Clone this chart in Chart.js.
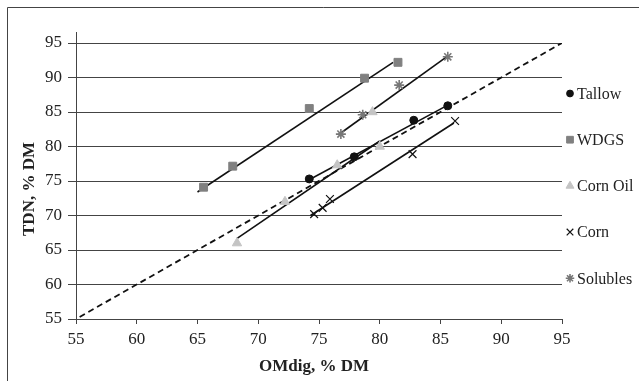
<!DOCTYPE html>
<html>
<head>
<meta charset="utf-8">
<script src="https://cdn.jsdelivr.net/npm/chart.js@4.4.1/dist/chart.umd.min.js"></script>
<style>
  html, body { margin: 0; padding: 0; background: #fff; overflow: hidden; }
  #wrap { width: 639px; height: 381px; position: relative; }
</style>
</head>
<body>
<div id="wrap"><canvas id="chart" width="639" height="381"></canvas></div>
<script>
// values (OMdig on x, TDN on y, both % DM)
const tallowX = [74.2, 77.9, 82.8, 85.6];
const tallowY = [75.3, 78.5, 83.8, 85.9];
const wdgsX = [65.5, 67.9, 74.2, 78.75, 81.5];
const wdgsY = [74.1, 77.15, 85.5, 89.9, 92.2];
const cornOilX = [68.25, 72.2, 76.5, 80.0, 79.4];
const cornOilY = [66.0, 72.0, 77.3, 80.0, 85.0];
const cornX = [74.6, 75.3, 75.9, 82.7, 86.2];
const cornY = [70.2, 71.1, 72.4, 78.9, 83.7];
const solublesX = [76.8, 78.6, 81.6, 85.6];
const solublesY = [81.8, 84.6, 88.9, 93.0];

// fitted lines, start and end points
const tallowFitX = [74.0, 85.6];
const tallowFitY = [75.0, 86.0];
const wdgsFitX = [65.0, 81.1];
const wdgsFitY = [73.4, 92.2];
const cornOilFitX = [68.2, 80.0];
const cornOilFitY = [66.6, 80.8];
const cornFitX = [74.3, 86.1];
const cornFitY = [70.0, 83.4];
const solublesFitX = [76.6, 85.5];
const solublesFitY = [81.7, 93.0];
const unityX = [55.3, 95];
const unityY = [55.3, 95];

const axisTicks = [55, 60, 65, 70, 75, 80, 85, 90, 95];

const FONT = "'Liberation Serif', 'DejaVu Serif', serif";

const pts = (xs, ys) => xs.map((x, i) => ({ x: x, y: ys[i] }));

const series = [
    { label: 'Tallow', x: tallowX, y: tallowY, style: 'circle', r: 4, fill: '#111', stroke: '#111', bw: 1 },
    { label: 'WDGS', x: wdgsX, y: wdgsY, style: 'rect', r: 5.6, fill: '#808080', stroke: '#808080', bw: 1 },
    { label: 'Corn Oil', x: cornOilX, y: cornOilY, style: 'triangle', r: 5.4, fill: '#c4c4c4', stroke: '#c4c4c4', bw: 1 },
    { label: 'Corn', x: cornX, y: cornY, style: 'crossRot', r: 5.5, fill: '#111', stroke: '#111', bw: 1.2 },
    { label: 'Solubles', x: solublesX, y: solublesY, style: 'star', r: 5, fill: '#777', stroke: '#777', bw: 1.6 }
];

const fits = [
    [tallowFitX, tallowFitY],
    [wdgsFitX, wdgsFitY],
    [cornOilFitX, cornOilFitY],
    [cornFitX, cornFitY],
    [solublesFitX, solublesFitY]
];

const datasets = [];
series.forEach(s => {
    datasets.push({
        label: s.label,
        data: pts(s.x, s.y),
        showLine: false,
        pointStyle: s.style,
        pointRadius: s.r,
        pointBackgroundColor: s.fill,
        pointBorderColor: s.stroke,
        pointBorderWidth: s.bw,
        order: 0
    });
});
fits.forEach(f => {
    datasets.push({
        data: pts(f[0], f[1]),
        showLine: true,
        borderColor: '#111',
        borderWidth: 1.6,
        pointRadius: 0,
        order: 1
    });
});
datasets.push({
    data: pts(unityX, unityY),
    showLine: true,
    borderColor: '#111',
    borderWidth: 1.8,
    borderDash: [6, 4],
    pointRadius: 0,
    order: 2
});

function drawMarker(ctx, s, x, y) {
    const opts = {
        pointStyle: s.style, radius: s.r * 0.85, rotation: 0,
        borderWidth: s.bw, backgroundColor: s.fill, borderColor: s.stroke
    };
    ctx.save();
    ctx.fillStyle = s.fill;
    ctx.strokeStyle = s.stroke;
    ctx.lineWidth = s.bw;
    Chart.helpers.drawPoint(ctx, opts, x, y);
    ctx.restore();
}

const decor = {
    id: 'decor',
    afterDraw(chart) {
        const ctx = chart.ctx;
        const a = chart.chartArea;
        ctx.save();
        // outer frame (runs off the right and bottom edges)
        ctx.strokeStyle = '#444';
        ctx.lineWidth = 1;
        ctx.beginPath();
        ctx.moveTo(7.5, 381);
        ctx.lineTo(7.5, 7.5);
        ctx.lineTo(639, 7.5);
        ctx.stroke();
        // y axis runs a bit above the top gridline
        ctx.beginPath();
        ctx.moveTo(a.left + 0.5, a.top - 11);
        ctx.lineTo(a.left + 0.5, a.top);
        ctx.stroke();

        // axis titles
        ctx.fillStyle = '#222';
        ctx.font = "bold 17px " + FONT;
        ctx.textAlign = 'center';
        ctx.textBaseline = 'middle';
        ctx.fillText('OMdig, % DM', 314, 367);
        ctx.save();
        ctx.translate(30, 189);
        ctx.rotate(-Math.PI / 2);
        ctx.fillText('TDN, % DM', 0, 0);
        ctx.restore();

        // legend
        ctx.font = "16px " + FONT;
        ctx.textAlign = 'left';
        series.forEach((s, i) => {
            const y = 93.5 + i * 46.2;
            drawMarker(ctx, s, a.right + 8, y);
            ctx.fillStyle = '#222';
            ctx.fillText(s.label, a.right + 15, y + 1);
        });
        ctx.restore();
    }
};

new Chart(document.getElementById('chart'), {
    type: 'scatter',
    data: { datasets: datasets },
    options: {
        responsive: false,
        animation: false,
        devicePixelRatio: 1,
        layout: { padding: { top: 43, right: 77, left: 0, bottom: 0 } },
        plugins: { legend: { display: false }, tooltip: { enabled: false } },
        scales: {
            x: {
                type: 'linear',
                min: 55, max: 95,
                afterBuildTicks: scale => { scale.ticks = axisTicks.map(v => ({ value: v })); },
                afterFit: scale => { scale.height = 62; },
                grid: { drawOnChartArea: false, drawTicks: true, tickLength: 5, color: '#444' },
                border: { display: true, color: '#444', width: 1 },
                ticks: { color: '#222', padding: 5, maxRotation: 0, font: { family: FONT, size: 17 } }
            },
            y: {
                type: 'linear',
                min: 55, max: 95,
                afterBuildTicks: scale => { scale.ticks = axisTicks.map(v => ({ value: v })); },
                afterFit: scale => { scale.width = 76; },
                grid: { drawTicks: true, tickLength: 8, color: '#444', lineWidth: 1 },
                border: { display: true, color: '#444', width: 1 },
                ticks: { color: '#222', padding: 6, font: { family: FONT, size: 17 } }
            }
        }
    },
    plugins: [decor]
});
</script>
</body>
</html>
